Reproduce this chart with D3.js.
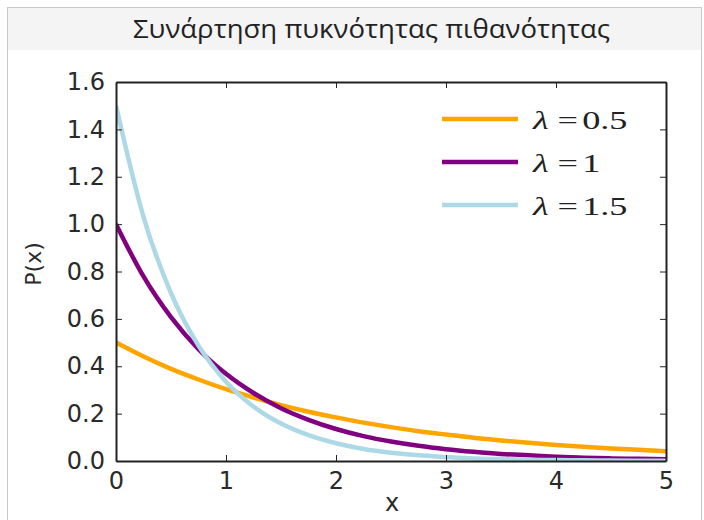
<!DOCTYPE html>
<html>
<head>
<meta charset="utf-8">
<script src="https://cdn.jsdelivr.net/npm/d3@7"></script>
<style>
  body { margin: 0; background: #fff; }
</style>
</head>
<body>
<svg width="704" height="520"></svg>
<script>
const svg = d3.select('svg');

// data
const title = 'Συνάρτηση πυκνότητας πιθανότητας';
const xValues = [0, 0.25, 0.5, 0.75, 1, 1.25, 1.5, 1.75, 2, 2.25, 2.5, 2.75, 3, 3.25, 3.5, 3.75, 4, 4.25, 4.5, 4.75, 5];
const lambda05 = [0.500, 0.441, 0.389, 0.344, 0.303, 0.268, 0.236, 0.208, 0.184, 0.162, 0.143, 0.126, 0.112, 0.098, 0.087, 0.077, 0.068, 0.060, 0.053, 0.047, 0.041];
const lambda1 = [1.000, 0.779, 0.607, 0.472, 0.368, 0.287, 0.223, 0.174, 0.135, 0.105, 0.082, 0.064, 0.050, 0.039, 0.030, 0.024, 0.018, 0.014, 0.011, 0.009, 0.007];
const lambda15 = [1.500, 1.031, 0.709, 0.487, 0.335, 0.230, 0.158, 0.109, 0.075, 0.051, 0.035, 0.024, 0.017, 0.011, 0.008, 0.005, 0.004, 0.003, 0.002, 0.001, 0.001];
const seriesNames = ['0.5', '1', '1.5'];
const seriesColors = ['#ffa500', '#800080', '#add8e6'];
const xTicks = [0, 1, 2, 3, 4, 5];
const yTicks = [0, 0.2, 0.4, 0.6, 0.8, 1.0, 1.2, 1.4, 1.6];

const series = [lambda05, lambda1, lambda15].map((vals, i) => ({
  name: seriesNames[i],
  color: seriesColors[i],
  points: vals.map((v, j) => ({ x: xValues[j], y: v }))
}));

// outer frame + title band
svg.append('rect')
  .attr('x', 7.5).attr('y', 7.5)
  .attr('width', 694).attr('height', 530)
  .attr('fill', '#fff')
  .attr('stroke', '#c8c8c8');
svg.append('rect')
  .attr('x', 8).attr('y', 8)
  .attr('width', 693).attr('height', 42)
  .attr('fill', '#f4f4f4');
svg.append('text')
  .attr('x', 133).attr('y', 38)
  .attr('textLength', 477)
  .attr('lengthAdjust', 'spacingAndGlyphs')
  .style('font', '25px "Open Sans", "Noto Sans", sans-serif')
  .style('fill', '#222')
  .text(title);

const PLOT = { LEFT: 116, RIGHT: 666, TOP: 82, BOTTOM: 461 };

const x = d3.scaleLinear().domain([0, 5]).range([PLOT.LEFT, PLOT.RIGHT]);
const y = d3.scaleLinear().domain([0, 1.6]).range([PLOT.BOTTOM, PLOT.TOP]);

const line = d3.line()
  .x(d => x(d.x))
  .y(d => y(d.y))
  .curve(d3.curveMonotoneX);

const g = svg.append('g');

g.append('defs').append('clipPath').attr('id', 'clip')
  .append('rect')
  .attr('x', PLOT.LEFT).attr('y', PLOT.TOP)
  .attr('width', PLOT.RIGHT - PLOT.LEFT).attr('height', PLOT.BOTTOM - PLOT.TOP);

g.selectAll('.curve')
  .data(series)
  .enter()
  .append('path')
  .attr('class', 'curve')
  .attr('clip-path', 'url(#clip)')
  .attr('d', d => line(d.points))
  .attr('fill', 'none')
  .attr('stroke', d => d.color)
  .attr('stroke-width', 4.5);

// axes with inward ticks, matplotlib style
const tickFont = '24px "DejaVu Sans", sans-serif';
const axisColor = '#222';

function styleAxis(sel, showText) {
  sel.select('.domain').attr('stroke', axisColor).attr('stroke-width', 2);
  sel.selectAll('.tick line').attr('stroke', axisColor).attr('stroke-width', 1);
  sel.selectAll('.tick text')
    .style('font', tickFont)
    .style('fill', '#2a2a2a')
    .style('display', showText ? null : 'none');
}

g.append('g')
  .attr('transform', `translate(0,${PLOT.BOTTOM})`)
  .call(d3.axisBottom(x).tickValues(xTicks).tickFormat(d3.format('d'))
    .tickSizeInner(-6).tickSizeOuter(0).tickPadding(11))
  .call(s => styleAxis(s, true));

g.append('g')
  .attr('transform', `translate(0,${PLOT.TOP})`)
  .call(d3.axisTop(x).tickValues(xTicks).tickSizeInner(-6).tickSizeOuter(0))
  .call(s => styleAxis(s, false));

g.append('g')
  .attr('transform', `translate(${PLOT.LEFT},0)`)
  .call(d3.axisLeft(y).tickValues(yTicks).tickFormat(d3.format('.1f'))
    .tickSizeInner(-6).tickSizeOuter(0).tickPadding(11))
  .call(s => styleAxis(s, true));

g.append('g')
  .attr('transform', `translate(${PLOT.RIGHT},0)`)
  .call(d3.axisRight(y).tickValues(yTicks).tickSizeInner(-6).tickSizeOuter(0))
  .call(s => styleAxis(s, false));

// axis labels
svg.append('text')
  .attr('x', 392)
  .attr('y', 511)
  .attr('text-anchor', 'middle')
  .style('font', '24px "DejaVu Sans", sans-serif')
  .style('fill', '#2a2a2a')
  .text('x');

svg.append('text')
  .attr('transform', 'translate(41,264) rotate(-90)')
  .attr('text-anchor', 'middle')
  .style('font', '22px "DejaVu Sans", sans-serif')
  .style('fill', '#2a2a2a')
  .text('P(x)');

// legend
const legend = svg.append('g').attr('transform', 'translate(442,119)');
const item = legend.selectAll('.item')
  .data(series)
  .enter()
  .append('g')
  .attr('class', 'item')
  .attr('transform', (d, i) => `translate(0,${i * 43})`);

item.append('line')
  .attr('x1', 0).attr('x2', 76)
  .attr('stroke', d => d.color)
  .attr('stroke-width', 4.5);

const label = item.append('g')
  .attr('transform', 'translate(91,10) scale(1.45,1)')
  .append('text')
  .style('font', '25px "Liberation Serif", "DejaVu Serif", serif')
  .style('fill', '#222');
label.append('tspan').style('font-style', 'italic').text('λ');
label.append('tspan').attr('dx', 6).text('=');
label.append('tspan').attr('dx', 3).text(d => d.name);
</script>
</body>
</html>
